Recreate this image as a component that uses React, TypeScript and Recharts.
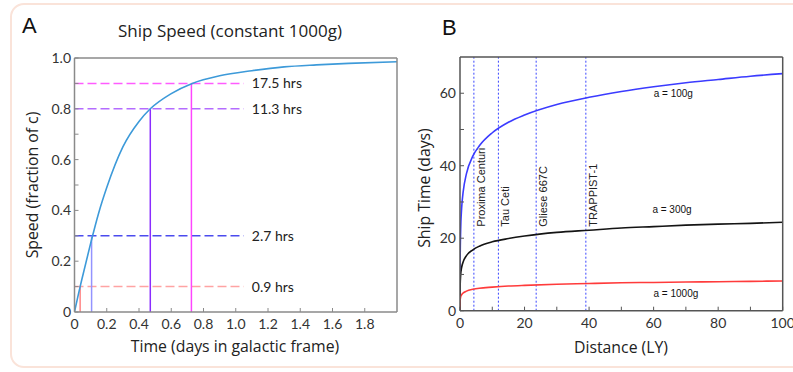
import React from 'react';
import { LineChart, Line, XAxis, YAxis, ReferenceLine, ReferenceDot } from 'recharts';

// Panel A: speed (fraction of c) vs time in galactic frame, constant 1000g
const timeDays = [0, 0.035, 0.05, 0.1, 0.15, 0.2, 0.3, 0.4, 0.47, 0.6, 0.73, 0.9, 1.1, 1.3, 1.5, 1.7, 2.0];
const speedC = [0, 0.1, 0.14, 0.27, 0.39, 0.49, 0.65, 0.75, 0.8, 0.86, 0.9, 0.93, 0.95, 0.965, 0.973, 0.979, 0.985];

const markSpeed = [0.1, 0.3, 0.8, 0.9];
const markTime = [0.035, 0.106, 0.47, 0.725];
const markHours = ['0.9 hrs', '2.7 hrs', '11.3 hrs', '17.5 hrs'];
const markDashColor = ['#ffa3a3', '#4b4bee', '#b46cff', '#ff5cff'];
const markLineColor = ['#ff8585', '#9393ff', '#8a2cff', '#ff45ff'];

const xTicksA = [0, 0.2, 0.4, 0.6, 0.8, 1.0, 1.2, 1.4, 1.6, 1.8];
const yTicksA = [0, 0.1, 0.2, 0.3, 0.4, 0.5, 0.6, 0.7, 0.8, 0.9, 1.0];

// Panel B: ship time (days) vs distance (LY)
const distanceLY = [0, 0.01, 0.05, 0.2, 0.5, 1, 2, 4, 6, 10, 15, 20, 30, 40, 50, 60, 70, 80, 90, 100];
const days100g = [0, 6.9, 13.8, 22.1, 28.2, 32.9, 37.8, 42.7, 45.5, 49.1, 52.0, 54.0, 56.9, 58.9, 60.5, 61.8, 62.9, 63.8, 64.7, 65.4];
const days300g = [0, 3.7, 6.8, 9.8, 11.9, 13.5, 15.2, 16.8, 17.8, 19.0, 19.9, 20.6, 21.6, 22.2, 22.8, 23.2, 23.6, 23.9, 24.1, 24.4];
const days1000g = [0, 1.8, 2.8, 3.8, 4.4, 4.9, 5.4, 5.9, 6.2, 6.5, 6.8, 7.0, 7.3, 7.5, 7.7, 7.8, 7.9, 8.0, 8.1, 8.2];

const starNames = ['Proxima Centuri', 'Tau Ceti', 'Gliese 667C', 'TRAPPIST-1'];
const starDist = [4.3, 11.9, 23.6, 39];

const curveNames = ['a = 100g', 'a = 300g', 'a = 1000g'];
const curveLabelX = [66.1, 65.7, 66.9];
const curveLabelY = [60, 27.8, 4.8];

const xTicksB = [0, 10, 20, 30, 40, 50, 60, 70, 80, 90, 100];
const yTicksB = [0, 10, 20, 30, 40, 50, 60];

const FONT = 'Lato, "Open Sans", sans-serif';
const TITLE_FONT = '"Open Sans", Lato, sans-serif';
const ARIAL = '"Liberation Sans", Arial, sans-serif';
const AXIS = '#8a8a8a';
const tickStyle = { fontSize: 14, fill: '#333', fontFamily: FONT };

const rowsA = timeDays.map((t, i) => ({ t, v: speedC[i] }));
const rowsB = distanceLY.map((d, i) => ({ d, a100: days100g[i], a300: days300g[i], a1000: days1000g[i] }));

const fmtA = (v: number) => (v === 0 ? '0' : v.toFixed(1));
const fmtYA = (v: number) => (Math.round(v * 10) % 2 === 0 ? fmtA(v) : '');
const fmtXB = (v: number) => (v % 20 === 0 ? String(v) : '');
const fmtYB = (v: number) => (v % 20 === 0 ? String(v) : '');

function StarLabel({ viewBox, text }: any) {
  const x = viewBox.x + 11;
  const y = viewBox.y + viewBox.height - 84;
  return (
    <text x={x} y={y} transform={`rotate(-90 ${x} ${y})`} fontSize={11} fontFamily={ARIAL} fill="#222">
      {text}
    </text>
  );
}

function PanelA() {
  return (
    <LineChart width={420} height={372} data={rowsA} margin={{ top: 57, right: 22, bottom: 30, left: 0 }}>
      <XAxis
        dataKey="t"
        type="number"
        domain={[0, 2]}
        ticks={xTicksA}
        interval={0}
        allowDataOverflow
        tickFormatter={fmtA}
        tickSize={-4}
        tickMargin={11}
        height={30}
        axisLine={{ stroke: AXIS, strokeWidth: 1.5 }}
        tickLine={{ stroke: AXIS }}
        tick={tickStyle}
      />
      <XAxis
        xAxisId="top"
        orientation="top"
        type="number"
        domain={[0, 2]}
        ticks={xTicksA}
        interval={0}
        allowDataOverflow
        tick={false}
        tickSize={-4}
        height={1}
        axisLine={{ stroke: AXIS, strokeWidth: 1.5 }}
        tickLine={{ stroke: AXIS }}
      />
      <YAxis
        type="number"
        domain={[0, 1]}
        ticks={yTicksA}
        interval={0}
        allowDataOverflow
        tickFormatter={fmtYA}
        tickSize={-4}
        tickMargin={7.5}
        width={74.5}
        axisLine={{ stroke: AXIS, strokeWidth: 1.5 }}
        tickLine={{ stroke: AXIS }}
        tick={tickStyle}
      />
      <YAxis
        yAxisId="right"
        orientation="right"
        type="number"
        domain={[0, 1]}
        ticks={yTicksA}
        interval={0}
        allowDataOverflow
        tick={false}
        tickSize={-4}
        width={1}
        axisLine={{ stroke: AXIS, strokeWidth: 1.5 }}
        tickLine={{ stroke: AXIS }}
      />
      {markSpeed.map((v, i) => (
        <ReferenceLine
          key={'h' + i}
          segment={[{ x: 0, y: v }, { x: 1.05, y: v }]}
          stroke={markDashColor[i]}
          strokeWidth={1.5}
          strokeDasharray="9 4"
        />
      ))}
      {markSpeed.map((v, i) => (
        <ReferenceLine
          key={'v' + i}
          segment={[{ x: markTime[i], y: 0 }, { x: markTime[i], y: v }]}
          stroke={markLineColor[i]}
          strokeWidth={1.5}
        />
      ))}
      {markSpeed.map((v, i) => (
        <ReferenceDot
          key={'l' + i}
          x={1.05}
          y={v}
          r={0}
          fill="none"
          stroke="none"
          label={{ value: markHours[i], position: 'right', offset: 8, fontSize: 14, fill: '#222', fontFamily: FONT }}
        />
      ))}
      <Line dataKey="v" type="monotone" stroke="#3d9ad9" strokeWidth={1.6} dot={false} isAnimationActive={false} />
    </LineChart>
  );
}

function PanelB() {
  return (
    <LineChart width={393} height={372} data={rowsB} margin={{ top: 56, right: 9.3, bottom: 31.3, left: 0 }}>
      <XAxis
        dataKey="d"
        type="number"
        domain={[0, 100]}
        ticks={xTicksB}
        interval={0}
        allowDataOverflow
        tickFormatter={fmtXB}
        tickSize={-4}
        tickMargin={11}
        height={30}
        axisLine={{ stroke: '#555', strokeWidth: 1.5 }}
        tickLine={{ stroke: '#555' }}
        tick={tickStyle}
      />
      <XAxis
        xAxisId="top"
        orientation="top"
        type="number"
        domain={[0, 100]}
        allowDataOverflow
        tick={false}
        tickLine={false}
        height={1}
        axisLine={{ stroke: '#555', strokeWidth: 1.5 }}
      />
      <YAxis
        type="number"
        domain={[0, 70]}
        ticks={yTicksB}
        interval={0}
        allowDataOverflow
        tickFormatter={fmtYB}
        tickSize={-4}
        tickMargin={8}
        width={60}
        axisLine={{ stroke: '#555', strokeWidth: 1.5 }}
        tickLine={{ stroke: '#555' }}
        tick={tickStyle}
      />
      <YAxis
        yAxisId="right"
        orientation="right"
        type="number"
        domain={[0, 70]}
        allowDataOverflow
        tick={false}
        tickLine={false}
        width={1}
        axisLine={{ stroke: '#555', strokeWidth: 1.5 }}
      />
      {starDist.map((d, i) => (
        <ReferenceLine
          key={'s' + i}
          x={d}
          stroke="#3a46ff"
          strokeWidth={1}
          strokeDasharray="2 2"
          label={(p: any) => <StarLabel viewBox={p.viewBox} text={starNames[i]} />}
        />
      ))}
      <Line dataKey="a100" type="monotone" stroke="#3b3bff" strokeWidth={1.6} dot={false} isAnimationActive={false} />
      <Line dataKey="a300" type="monotone" stroke="#141414" strokeWidth={1.6} dot={false} isAnimationActive={false} />
      <Line dataKey="a1000" type="monotone" stroke="#ff3b3b" strokeWidth={1.6} dot={false} isAnimationActive={false} />
      {curveNames.map((n, i) => (
        <ReferenceDot
          key={'c' + i}
          x={curveLabelX[i]}
          y={curveLabelY[i]}
          r={0}
          fill="none"
          stroke="none"
          label={{ value: n, position: 'center', fontSize: 10, fill: '#111', fontFamily: ARIAL }}
        />
      ))}
    </LineChart>
  );
}

export default function App() {
  return (
    <div style={{ position: 'absolute', left: 0, top: 0, width: 793, height: 372, overflow: 'hidden', background: '#fff' }}>
      <div
        style={{
          position: 'absolute',
          left: 10,
          top: 3,
          width: 820,
          height: 365,
          boxSizing: 'border-box',
          border: '2px solid #fae3d9',
          borderRadius: 14,
        }}
      />
      <div style={{ position: 'absolute', left: 0, top: 0 }}>
        <PanelA />
      </div>
      <div style={{ position: 'absolute', left: 400, top: 0 }}>
        <PanelB />
      </div>
      <svg width={793} height={372} style={{ position: 'absolute', left: 0, top: 0, pointerEvents: 'none' }}>
        <text x={22} y={33} fontSize={22} fontFamily={ARIAL} fill="#111">A</text>
        <text x={442} y={35} fontSize={22} fontFamily={ARIAL} fill="#111">B</text>
        <text x={230} y={37} fontSize={17} fontFamily={TITLE_FONT} fill="#222" textAnchor="middle">
          Ship Speed (constant 1000g)
        </text>
        <text x={235} y={352} fontSize={15.8} fontFamily={TITLE_FONT} fill="#222" textAnchor="middle">
          Time (days in galactic frame)
        </text>
        <text x={621} y={353} fontSize={15.8} fontFamily={TITLE_FONT} fill="#222" textAnchor="middle">
          Distance (LY)
        </text>
        <text x={38} y={185} fontSize={15.8} fontFamily={TITLE_FONT} fill="#222" textAnchor="middle" transform="rotate(-90 38 185)">
          Speed (fraction of c)
        </text>
        <text x={430} y={188} fontSize={15.8} fontFamily={TITLE_FONT} fill="#222" textAnchor="middle" transform="rotate(-90 430 188)">
          Ship Time (days)
        </text>
      </svg>
    </div>
  );
}
